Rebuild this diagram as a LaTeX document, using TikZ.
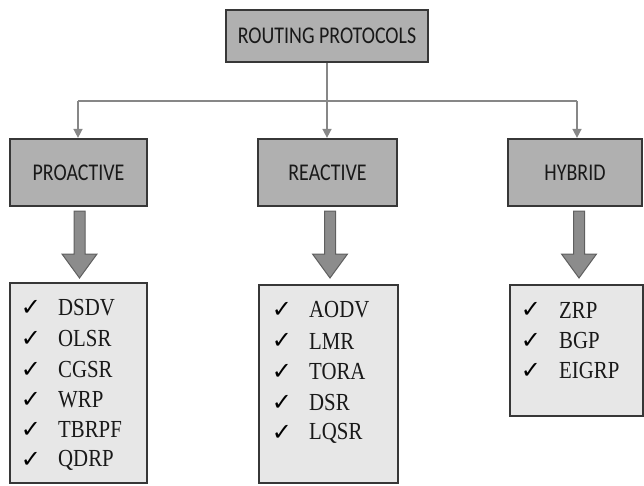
\documentclass[tikz,border=0pt]{standalone}
\usepackage{fontspec}
\usepackage{graphicx}
\setmainfont{Liberation Serif}
\newfontfamily\hdrfont{Carlito}
\newfontfamily\symfont{DejaVu Sans}
\usetikzlibrary{arrows.meta,calc}
\definecolor{hdrfill}{RGB}{176,176,176}
\definecolor{listfill}{RGB}{231,231,231}
\definecolor{edgecol}{RGB}{55,55,55}
\definecolor{conncol}{RGB}{135,135,135}
\definecolor{bigarrow}{RGB}{140,140,140}
\newcommand{\hdrtxt}[1]{\scalebox{0.83}[1]{#1}}
\newcommand{\itemtxt}[1]{\scalebox{0.85}[1]{#1}}
\tikzset{
  hdrbox/.style={draw=edgecol, line width=2.2pt, fill=hdrfill, inner sep=0pt,
    font=\hdrfont\fontsize{24}{24}\selectfont, text=black!90},
  listbox/.style={draw=edgecol, line width=2pt, fill=listfill, inner sep=0pt},
  itemtext/.style={anchor=west, inner sep=0pt, font=\fontsize{24.5}{24.5}\selectfont, text=black!90},
  tick/.style={anchor=center, inner sep=0pt, font=\symfont\fontsize{24}{24}\selectfont, text=black},
  conn/.style={draw=conncol, line width=1.5pt},
  connarrow/.style={conn, -{Triangle[width=9pt,length=9pt]}},
  blockarrow/.style={draw=edgecol!80, line width=1pt, fill=bigarrow}
}
\begin{document}
\begin{tikzpicture}[x=1pt,y=-1pt]
\useasboundingbox (0,0) rectangle (644,486);
% header boxes
\node[hdrbox, minimum width=202pt, minimum height=52pt] (root) at (327,36) {\hdrtxt{ROUTING PROTOCOLS}};
\node[hdrbox, minimum width=137pt, minimum height=67pt] (pro) at (78.5,172.5) {\hdrtxt{PROACTIVE}};
\node[hdrbox, minimum width=139pt, minimum height=67pt] (rea) at (327.5,172.5) {\hdrtxt{REACTIVE}};
\node[hdrbox, minimum width=134pt, minimum height=67pt] (hyb) at (575,172.5) {\hdrtxt{HYBRID}};
% list boxes
\node[listbox, minimum width=137pt, minimum height=200pt] (plist) at (78.5,383) {};
\node[listbox, minimum width=139pt, minimum height=198pt] (rlist) at (328.5,384) {};
\node[listbox, minimum width=133pt, minimum height=131pt] (hlist) at (576.5,350.5) {};
% connectors
\coordinate (junction) at (327,101);
\coordinate (jl) at (78,101);
\coordinate (jr) at (577,101);
\draw[conn] (root.south) -- (junction);
\draw[conn] (jl) -- (jr);
\draw[connarrow] (jl) -- (jl |- pro.north);
\draw[connarrow] (junction) -- (junction |- rea.north);
\draw[connarrow] (jr) -- (jr |- hyb.north);
% block arrows
\foreach \cx in {79.5, 330, 579}{
  \draw[blockarrow] (\cx-5.5,211) -- (\cx-5.5,254) -- (\cx-17.5,254) -- (\cx,278)
    -- (\cx+17.5,254) -- (\cx+5.5,254) -- (\cx+5.5,211) -- cycle;
}
% proactive items
\foreach \t/\y/\n in {DSDV/308/p1, OLSR/339/p2, CGSR/369.5/p3, WRP/399.5/p4, TBRPF/429.5/p5, QDRP/460/p6}{
  \node[tick] (\n t) at (31,\y) {✓};
  \node[itemtext] (\n) at (58,\y) {\itemtxt{\t}};
}
% reactive items
\foreach \t/\y/\n in {AODV/310/r1, LMR/341/r2, TORA/372/r3, DSR/402.5/r4, LQSR/433/r5}{
  \node[tick] (\n t) at (282,\y) {✓};
  \node[itemtext] (\n) at (309,\y) {\itemtxt{\t}};
}
% hybrid items
\foreach \t/\y/\n in {ZRP/310/h1, BGP/340.5/h2, EIGRP/371/h3}{
  \node[tick] (\n t) at (531,\y) {✓};
  \node[itemtext] (\n) at (559,\y) {\itemtxt{\t}};
}
\end{tikzpicture}
\end{document}
